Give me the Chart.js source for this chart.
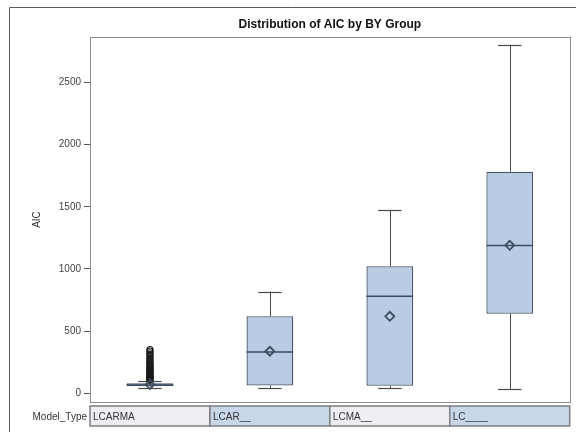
<!DOCTYPE html>
<html>
<head>
<meta charset="utf-8">
<script src="https://cdn.jsdelivr.net/npm/chart.js@4.4.1/dist/chart.umd.min.js"></script>
<style>
  html, body { margin: 0; padding: 0; background: #ffffff; }
  #wrap { width: 576px; height: 432px; }
</style>
</head>
<body>
<div id="wrap"><canvas id="aicChart"></canvas></div>
<script>
const groups = ["LCARMA", "LCAR__", "LCMA__", "LC____"];
const whiskerLow = [46, 44, 44, 36];
const q1 = [57, 63, 60, 640];
const medians = [67, 332, 780, 1188];
const q3 = [80, 619, 1022, 1782];
const whiskerHigh = [97, 818, 1473, 2803];
const means = [70, 338, 619, 1190];
const armaOutliers = [106, 112, 118, 125, 131, 138, 146, 153, 161, 170, 178, 187,
  196, 205, 214, 224, 235, 246, 258, 270, 283, 297, 311, 326, 340, 352];
const yTicks = [0, 500, 1000, 1500, 2000, 2500];

const font = "'Liberation Sans', Arial, sans-serif";

const boxParts = {
  id: "boxParts",
  beforeDatasetsDraw(chart) {
    const ctx = chart.ctx;
    const y = chart.scales.y;
    const meta = chart.getDatasetMeta(0);
    ctx.save();
    ctx.strokeStyle = "#4a4a4a";
    ctx.lineWidth = 1;
    meta.data.forEach((bar, i) => {
      const x = Math.round(bar.x) + 0.5;
      ctx.beginPath();
      ctx.moveTo(x, y.getPixelForValue(q3[i]));
      ctx.lineTo(x, y.getPixelForValue(whiskerHigh[i]));
      ctx.moveTo(x, y.getPixelForValue(q1[i]));
      ctx.lineTo(x, y.getPixelForValue(whiskerLow[i]));
      ctx.stroke();
    });
    ctx.restore();
  },
  afterDatasetDraw(chart, args) {
    if (args.index !== 0) return;
    const ctx = chart.ctx;
    const y = chart.scales.y;
    const meta = chart.getDatasetMeta(0);
    ctx.save();
    meta.data.forEach((bar, i) => {
      const half = bar.width / 2;
      const capHalf = bar.width / 4;
      ctx.strokeStyle = "#4a4a4a";
      ctx.lineWidth = 1.2;
      [whiskerHigh[i], whiskerLow[i]].forEach(v => {
        const py = Math.round(y.getPixelForValue(v)) + 0.5;
        ctx.beginPath();
        ctx.moveTo(bar.x - capHalf, py);
        ctx.lineTo(bar.x + capHalf, py);
        ctx.stroke();
      });
      ctx.strokeStyle = "#3e4d5f";
      ctx.lineWidth = 1.6;
      const my = y.getPixelForValue(medians[i]);
      ctx.beginPath();
      ctx.moveTo(bar.x - half, my);
      ctx.lineTo(bar.x + half, my);
      ctx.stroke();
    });
    ctx.restore();
  }
};

const frame = {
  id: "frame",
  afterDraw(chart) {
    const ctx = chart.ctx;
    const a = chart.chartArea;
    const x = chart.scales.x;
    ctx.save();
    // outer border
    ctx.strokeStyle = "#5a5a5a";
    ctx.lineWidth = 1;
    ctx.beginPath();
    ctx.moveTo(9.5, 432);
    ctx.lineTo(9.5, 7.5);
    ctx.lineTo(576, 7.5);
    ctx.stroke();
    // plot frame
    ctx.strokeStyle = "#8c8c8c";
    ctx.strokeRect(Math.round(a.left) + 0.5, Math.round(a.top) + 0.5,
      Math.round(a.right - a.left), Math.round(a.bottom - a.top));
    // title
    ctx.fillStyle = "#111111";
    ctx.font = "bold 12px " + font;
    ctx.textAlign = "center";
    ctx.textBaseline = "middle";
    ctx.fillText("Distribution of AIC by BY Group", (a.left + a.right) / 2, 25);
    // class table
    const top = a.bottom + 4;
    const h = 20;
    const step = x.getPixelForValue(1) - x.getPixelForValue(0);
    ctx.font = "10px " + font;
    ctx.textAlign = "right";
    ctx.fillStyle = "#333333";
    ctx.fillText("Model_Type", a.left - 3, top + h / 2 + 1);
    ctx.textAlign = "left";
    groups.forEach((g, i) => {
      const left = x.getPixelForValue(i) - step / 2;
      ctx.fillStyle = i % 2 === 0 ? "#ededf4" : "#c8d6ea";
      ctx.fillRect(left, top, step, h);
      ctx.strokeStyle = "#7f7f7f";
      ctx.lineWidth = 1.5;
      ctx.strokeRect(left, top, step, h);
      ctx.fillStyle = "#333333";
      ctx.fillText(g, left + 3, top + h / 2 + 1);
    });
    ctx.restore();
  }
};

new Chart(document.getElementById("aicChart"), {
  type: "bar",
  data: {
    labels: groups,
    datasets: [
      {
        label: "Box",
        order: 2,
        data: groups.map((g, i) => [q1[i], q3[i]]),
        backgroundColor: "#b8cce4",
        borderColor: "#46556a",
        borderWidth: 1.3,
        borderSkipped: false,
        barPercentage: 0.39,
        categoryPercentage: 1
      },
      {
        type: "line",
        label: "Mean",
        order: 0,
        data: means,
        showLine: false,
        pointStyle: "rectRot",
        pointRadius: 4.5,
        pointBorderWidth: 1.8,
        pointBorderColor: "#3e4d5f",
        pointBackgroundColor: "rgba(0,0,0,0)"
      },
      {
        type: "line",
        label: "Outliers",
        order: 1,
        data: armaOutliers.map(v => ({ x: groups[0], y: v })),
        showLine: false,
        pointStyle: "circle",
        pointRadius: 3,
        pointBorderWidth: 1.2,
        pointBorderColor: "#1a1a1a",
        pointBackgroundColor: "rgba(0,0,0,0)"
      }
    ]
  },
  options: {
    responsive: true,
    maintainAspectRatio: false,
    animation: false,
    layout: {
      padding: { top: 37, right: 3, bottom: 30, left: 0 }
    },
    plugins: {
      legend: { display: false },
      tooltip: { enabled: false }
    },
    scales: {
      x: {
        display: false,
        offset: true,
        grid: { display: false }
      },
      y: {
        min: -70,
        max: 2865,
        afterFit(scale) {
          scale.width = 90;
        },
        afterBuildTicks(scale) {
          scale.ticks = yTicks.map(v => ({ value: v }));
        },
        border: { display: false },
        grid: {
          drawOnChartArea: false,
          drawTicks: true,
          tickLength: 6,
          color: "#555555"
        },
        ticks: {
          padding: 3,
          color: "#444444",
          font: { family: font, size: 10 },
          callback: v => String(v)
        },
        title: {
          display: true,
          text: "AIC",
          color: "#333333",
          padding: { top: 31, bottom: 0 },
          font: { family: font, size: 10 }
        }
      }
    }
  },
  plugins: [boxParts, frame]
});
</script>
</body>
</html>
